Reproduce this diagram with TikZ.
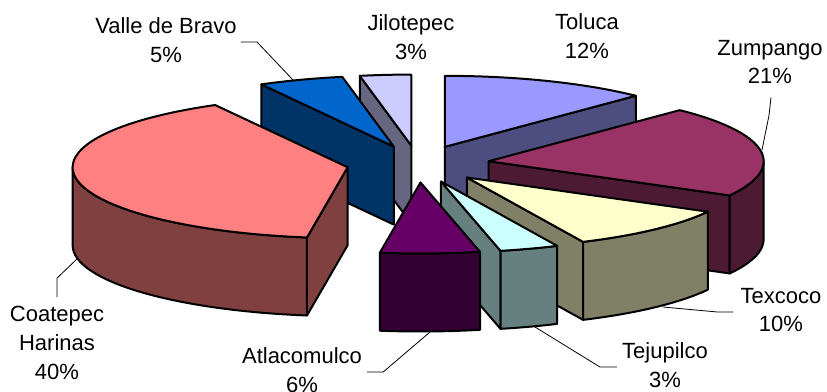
\documentclass[tikz,border=0pt]{standalone}
\usepackage{fontspec}
\setmainfont{Liberation Sans}
\usepackage{tikz}
\usetikzlibrary{calc}

\definecolor{tolTop}{HTML}{9999FF}\definecolor{tolSide}{HTML}{4D4D80}
\definecolor{zumTop}{HTML}{993366}\definecolor{zumSide}{HTML}{4D1A33}
\definecolor{texTop}{HTML}{FFFFCC}\definecolor{texSide}{HTML}{808066}
\definecolor{tejTop}{HTML}{CCFFFF}\definecolor{tejSide}{HTML}{668080}
\definecolor{atlTop}{HTML}{660066}\definecolor{atlSide}{HTML}{330033}
\definecolor{coaTop}{HTML}{FF8080}\definecolor{coaSide}{HTML}{804040}
\definecolor{valTop}{HTML}{0066CC}\definecolor{valSide}{HTML}{003366}
\definecolor{jilTop}{HTML}{CCCCFF}\definecolor{jilSide}{HTML}{666680}

% angles run clockwise from 12 o'clock; pie is 275 x 71, 78 high
\newcommand{\sliceTop}[4]{%
  \filldraw[face,fill=#4] (#1) -- ++({#2-90}:275 and 71)
    arc[start angle={#2-90},end angle={#3-90},x radius=275,y radius=71] -- cycle;}
\newcommand{\sliceCut}[3]{%
  \filldraw[face,fill=#3] (#1) -- ++({#2-90}:275 and 71) -- ++(0,78)
    -- ($(#1)+(0,78)$) -- cycle;}
\newcommand{\sliceWall}[4]{%
  \filldraw[face,fill=#4] (#1) ++({#2-90}:275 and 71)
    arc[start angle={#2-90},end angle={#3-90},x radius=275,y radius=71]
    -- ++(0,78)
    arc[start angle={#3-90},end angle={#2-90},x radius=275,y radius=71] -- cycle;}

\begin{document}
\begin{tikzpicture}[x=0.75pt,y=0.75pt,yscale=-1,
    face/.style={draw=black,line width=1.5pt,line join=round},
    lbl/.style={align=center,inner sep=1.5pt,font=\fontsize{16.5}{21.6}\selectfont},
    lead/.style={draw=black,line width=0.6pt}]
  \useasboundingbox (0,0) rectangle (827,392);
  \coordinate (C) at (418,164);
  % apex of each slice, pulled out along its middle angle
  \foreach \nm/\ta/\tb in {TO/0/44,ZU/44/118.8,TX/118.8/155,TJ/155/167.5,
                           AT/167.5/188.5,CH/188.5/331.2,VB/331.2/349.2,JI/349.2/360}
    \coordinate (\nm) at ($(C)+({(\ta+\tb)/2-90}:71.5 and 18.5)$);

  % back to front
  \sliceCut{JI}{349.2}{jilSide}
  \sliceTop{JI}{349.2}{360}{jilTop}
  \sliceCut{VB}{331.2}{valSide}
  \sliceTop{VB}{331.2}{349.2}{valTop}
  \sliceCut{TO}{44}{tolSide}
  \sliceTop{TO}{0}{44}{tolTop}
  \sliceCut{ZU}{118.8}{zumSide}
  \sliceWall{ZU}{90}{118.8}{zumSide}
  \sliceTop{ZU}{44}{118.8}{zumTop}
  \sliceCut{CH}{188.5}{coaSide}
  \sliceWall{CH}{188.5}{270}{coaSide}
  \sliceTop{CH}{188.5}{331.2}{coaTop}
  \sliceCut{TX}{155}{texSide}
  \sliceWall{TX}{118.8}{155}{texSide}
  \sliceTop{TX}{118.8}{155}{texTop}
  \sliceCut{TJ}{167.5}{tejSide}
  \sliceWall{TJ}{155}{167.5}{tejSide}
  \sliceTop{TJ}{155}{167.5}{tejTop}
  \sliceWall{AT}{167.5}{188.5}{atlSide}
  \sliceTop{AT}{167.5}{188.5}{atlTop}

  % labels
  \node[lbl] (lVB) at (166,40)  {Valle de Bravo\\5\%};
  \node[lbl] (lJI) at (411,37)  {Jilotepec\\3\%};
  \node[lbl] (lTO) at (587,36)  {Toluca\\12\%};
  \node[lbl] (lZU) at (770,62)  {Zumpango\\21\%};
  \node[lbl] (lTX) at (781,310) {Texcoco\\10\%};
  \node[lbl] (lTJ) at (665,365) {Tejupilco\\3\%};
  \node[lbl] (lAT) at (302,370) {Atlacomulco\\6\%};
  \node[lbl] (lCH) at (57,343)  {Coatepec\\Harinas\\40\%};

  % leader lines
  \coordinate (tVB) at (293,80);
  \coordinate (tZU) at (762,150);
  \coordinate (tTX) at (663,307);
  \coordinate (tTJ) at (535,327);
  \coordinate (tAT) at (430,332);
  \coordinate (tCH) at (78,258);
  \draw[lead] (lVB.east) ++(2,2) -- ++(16,0) -- (tVB);
  \draw[lead] (lZU.south) ++(1,11) -- ++(-2,18) -- (tZU);
  \draw[lead] (lTX.west) ++(-5,2) -- ++(-16,0) -- (tTX);
  \draw[lead] (lTJ.west) ++(-3,2) -- ++(-17,0) -- (tTJ);
  \draw[lead] (lAT.east) ++(3,2) -- ++(16,0) -- (tAT);
  \draw[lead] (lCH.north) ++(0,-7) -- ++(0,-19) -- (tCH);
\end{tikzpicture}
\end{document}
